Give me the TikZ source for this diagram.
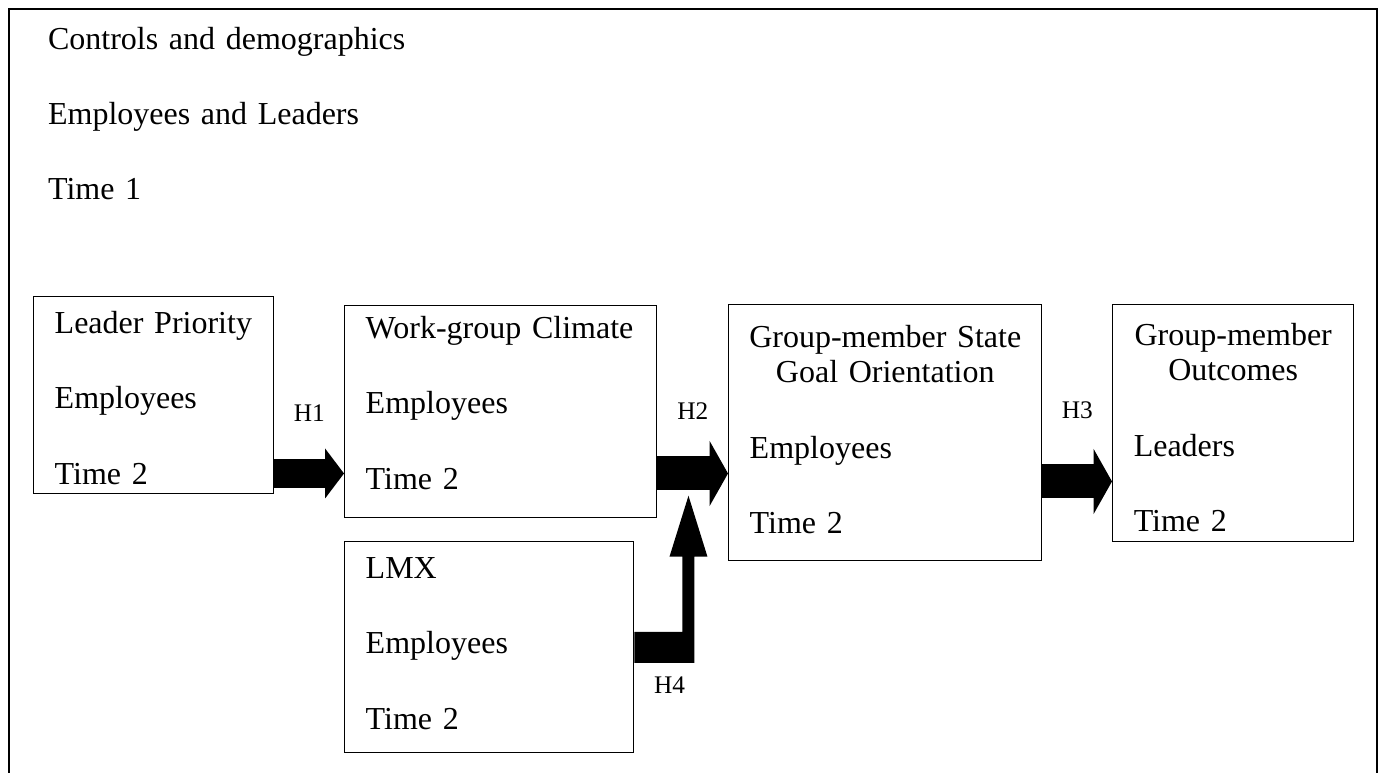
\documentclass[tikz,border=0pt]{standalone}
\usepackage{fontspec}
\setmainfont{Liberation Serif}
\usetikzlibrary{arrows.meta,calc}
\newlength{\pxu}
\setlength{\pxu}{0.375pt}

\tikzset{
  varbox/.style={draw, line width=0.55pt, anchor=north west, align=left,
    inner xsep=21\pxu, inner ysep=0pt, font=\fontsize{12}{13.2}\selectfont},
  blockarrow/.style={line width=12.75pt, -{Triangle[length=6.9pt, width=24.4pt, line width=0pt]}},
  hlabel/.style={inner sep=0pt, font=\fontsize{9.5}{11}\selectfont}
}

\begin{document}
\begin{tikzpicture}[x=0.375pt, y=-0.375pt]
\useasboundingbox (0,0) rectangle (1382,772);
%
% outer frame, runs on below the page
  \node[varbox, line width=0.8pt, text width=1290\pxu, inner xsep=39\pxu, text height=40\pxu, text depth=770\pxu] (ctrl) at (8,8)
    {Controls and demographics\\[15pt]Employees and Leaders\\[15pt]Time 1};
%
  \node[varbox, text width=198\pxu, text height=37\pxu, text depth=160\pxu] (prio) at (33,296)
    {Leader Priority\\[15pt]Employees\\[15pt]Time 2};
  \node[varbox, text width=270\pxu, text height=33\pxu, text depth=179\pxu] (climate) at (344,305)
    {Work-group Climate\\[15pt]Employees\\[15pt]Time 2};
  \node[varbox, text width=271\pxu, text height=43\pxu, text depth=213\pxu] (sgo) at (728,304)
    {\makebox[\hsize]{Group-member State}\\\makebox[\hsize]{Goal Orientation}\\[15pt]Employees\\[15pt]Time 2};
  \node[varbox, text width=199\pxu, text height=41\pxu, text depth=196\pxu] (outc) at (1112,304)
    {\makebox[\hsize]{Group-member}\\\makebox[\hsize]{Outcomes}\\[15pt]Leaders\\[15pt]Time 2};
  \node[varbox, text width=247\pxu, text height=37\pxu, text depth=174\pxu] (lmx) at (344,541)
    {LMX\\[15pt]Employees\\[15pt]Time 2};
%
% hypotheses
  \coordinate (h1) at ([yshift=21\pxu]prio.south east);
  \coordinate (h2) at ([yshift=45\pxu]climate.south east);
  \coordinate (h3) at ([yshift=80\pxu]sgo.south east);
  \draw[blockarrow, line width=10.9pt, -{Triangle[length=7.1pt, width=18.75pt, line width=0pt]}] (h1) -- (h1 -| climate.west)
    node[midway, above=37\pxu, hlabel] (h1lab) {H1};
  \draw[blockarrow] (h2) -- (h2 -| sgo.west) node[midway, above=37\pxu, hlabel] (h2lab) {H2};
  \draw[blockarrow] (h3) -- (h3 -| outc.west) node[midway, above=46\pxu, hlabel] (h3lab) {H3};
%
% bent arrow from LMX up under H2
  \fill ([yshift=15.5\pxu]lmx.east) -- ++(48,0) -- ++(0,-75) -- ++(-13,0) -- ++(19,-61)
    -- ++(19,61) -- ++(-13,0) -- ++(0,106) -- ++(-60,0) -- cycle;
  \node[hlabel, anchor=base] (h4lab) at ([xshift=35\pxu, yshift=-46.5\pxu]lmx.east) {H4};
\end{tikzpicture}
\end{document}
